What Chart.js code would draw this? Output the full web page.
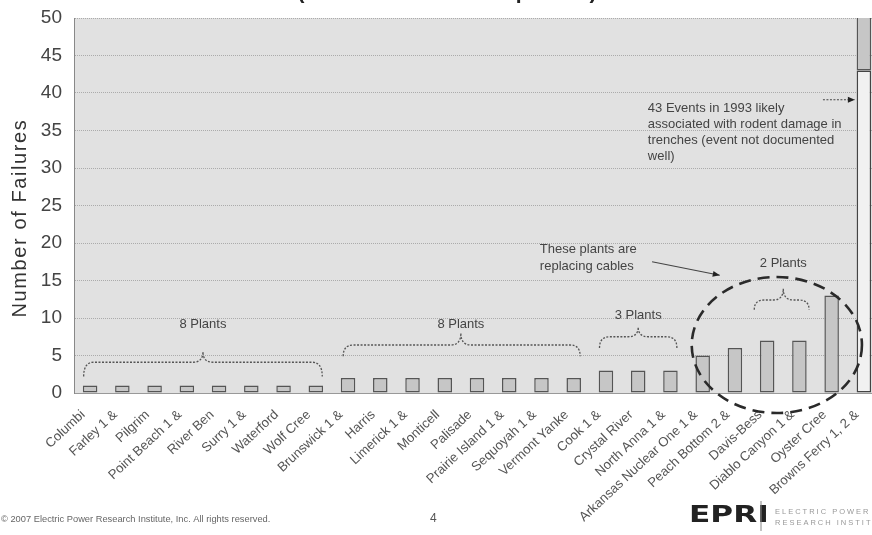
<!DOCTYPE html>
<html>
<head>
<meta charset="utf-8">
<script src="https://cdn.jsdelivr.net/npm/chart.js@4.4.1/dist/chart.umd.min.js"></script>
<style>
  html, body { margin: 0; padding: 0; background: #fff; overflow: hidden; width: 872px; height: 535px; }
  #wrap { position: absolute; left: 0; top: 0; width: 890px; height: 535px; }
</style>
</head>
<body>
<div id="wrap"><canvas id="c" width="890" height="535"></canvas></div>
<script>
// Cable failures reported per plant
const plants = [
  "Columbi", "Farley 1 &", "Pilgrim", "Point Beach 1 &", "River Ben", "Surry 1 &",
  "Waterford", "Wolf Cree", "Brunswick 1 &", "Harris", "Limerick 1 &", "Monticell",
  "Palisade", "Prairie Island 1 &", "Sequoyah 1 &", "Vermont Yanke", "Cook 1 &",
  "Crystal River", "North Anna 1 &", "Arkansas Nuclear One 1 &", "Peach Bottom 2 &",
  "Davis-Bess", "Diablo Canyon 1 &", "Oyster Cree", "Browns Ferry 1, 2 &"
];
// 1993 rodent-related events (Browns Ferry only)
const events1993 = [null, null, null, null, null, null, null, null, null, null, null, null,
  null, null, null, null, null, null, null, null, null, null, null, null, 43];
// all other failures
const failures = [1, 1, 1, 1, 1, 1, 1, 1, 2, 2, 2, 2, 2, 2, 2, 2, 3, 3, 3, 5, 6, 7, 7, 13, 9];
const yTicks = [0, 5, 10, 15, 20, 25, 30, 35, 40, 45, 50];

const FONT = "'Liberation Sans', Arial, sans-serif";

// curly-brace groupings, in category index / failure units
const braces = [
  { label: "8 Plants", from: -0.2, to: 7.2, tip: 3.5, end: 2.2, bar: 4.1, peak: 5.5, text: 9.1 },
  { label: "8 Plants", from: 7.85, to: 15.2, tip: 11.5, end: 4.9, bar: 6.4, peak: 8.0, text: 9.1 },
  { label: "3 Plants", from: 15.8, to: 18.2, tip: 17.0, end: 6.0, bar: 7.5, peak: 8.8, text: 10.4 },
  { label: "2 Plants", from: 20.6, to: 22.3, tip: 21.5, end: 11.1, bar: 12.4, peak: 13.9, text: 17.3 }
];

const notes = {
  id: "notes",
  beforeDraw(chart) {
    const { ctx, chartArea: a } = chart;
    ctx.save();
    ctx.fillStyle = "#ffffff";
    ctx.fillRect(0, 0, chart.width, chart.height);
    ctx.fillStyle = "#e1e1e1";
    ctx.fillRect(a.left, a.top, a.right - a.left, a.bottom - a.top);
    ctx.restore();
  },
  afterDraw(chart) {
    const { ctx } = chart;
    const xs = chart.scales.x, ys = chart.scales.y;
    const X = v => xs.getPixelForValue(v);
    const Y = v => ys.getPixelForValue(v);
    ctx.save();

    // braces
    ctx.strokeStyle = "#555";
    ctx.lineWidth = 1.3;
    ctx.setLineDash([2, 1.5]);
    const r = 10;
    braces.forEach(b => {
      const x0 = X(b.from), x1 = X(b.to), xt = X(b.tip);
      const yE = Y(b.end), yB = Y(b.bar), yP = Y(b.peak);
      ctx.beginPath();
      ctx.moveTo(x0, yE);
      ctx.quadraticCurveTo(x0, yB, x0 + r, yB);
      ctx.lineTo(xt - r, yB);
      ctx.quadraticCurveTo(xt, yB, xt, yP);
      ctx.quadraticCurveTo(xt, yB, xt + r, yB);
      ctx.lineTo(x1 - r, yB);
      ctx.quadraticCurveTo(x1, yB, x1, yE);
      ctx.stroke();
    });
    ctx.setLineDash([]);
    ctx.fillStyle = "#444";
    ctx.font = "13px " + FONT;
    ctx.textAlign = "center";
    ctx.textBaseline = "middle";
    braces.forEach(b => ctx.fillText(b.label, X(b.tip), Y(b.text)));

    // dashed ring round the plants replacing cables
    ctx.strokeStyle = "#2a2a2a";
    ctx.lineWidth = 2.6;
    ctx.setLineDash([12, 7]);
    const cx = X(21.3), cy = Y(6.4);
    const rx = X(21.3 + 2.64) - cx, ry = cy - Y(6.4 + 9.07);
    ctx.beginPath();
    ctx.ellipse(cx, cy, rx, ry, 0, 0, Math.PI * 2);
    ctx.stroke();
    ctx.setLineDash([]);

    // arrows
    function arrow(x0, y0, x1, y1, dash) {
      ctx.strokeStyle = "#444";
      ctx.fillStyle = "#222";
      ctx.lineWidth = 1.2;
      ctx.setLineDash(dash);
      ctx.beginPath();
      ctx.moveTo(x0, y0);
      ctx.lineTo(x1, y1);
      ctx.stroke();
      ctx.setLineDash([]);
      const ang = Math.atan2(y1 - y0, x1 - x0), h = 7, w = 3;
      ctx.beginPath();
      ctx.moveTo(x1, y1);
      ctx.lineTo(x1 - h * Math.cos(ang) + w * Math.sin(ang), y1 - h * Math.sin(ang) - w * Math.cos(ang));
      ctx.lineTo(x1 - h * Math.cos(ang) - w * Math.sin(ang), y1 - h * Math.sin(ang) + w * Math.cos(ang));
      ctx.closePath();
      ctx.fill();
    }
    ctx.fillStyle = "#444";
    ctx.font = "13px " + FONT;
    ctx.textAlign = "left";
    ctx.fillText("These plants are", X(13.95), Y(19.1));
    ctx.fillText("replacing cables", X(13.95), Y(16.9));
    arrow(X(17.43), Y(17.5), X(19.53), Y(15.7), []);

    ctx.fillStyle = "#444";
    ["43 Events in 1993 likely", "associated with rodent damage in",
     "trenches (event not documented", "well)"].forEach((t, i) => {
      ctx.fillText(t, X(17.3), Y(38.0 - i * 2.13));
    });
    arrow(X(22.73), Y(39.1), X(23.72), Y(39.1), [2, 1.5]);

    // vertical axis title
    ctx.save();
    ctx.translate(20, 218);
    ctx.rotate(-Math.PI / 2);
    ctx.fillStyle = "#333";
    ctx.font = "20px " + FONT;
    ctx.letterSpacing = "1.6px";
    ctx.textAlign = "center";
    ctx.textBaseline = "middle";
    ctx.fillText("Number of Failures", 0, 0);
    ctx.restore();

    // heading
    ctx.fillStyle = "#222";
    ctx.font = "bold 21px " + FONT;
    ctx.textAlign = "center";
    ctx.textBaseline = "alphabetic";
    ctx.fillText("(Source CE-07-01 Responses)", 447, -1);

    // footer
    ctx.fillStyle = "#666";
    ctx.font = "9.3px " + FONT;
    ctx.textAlign = "left";
    ctx.textBaseline = "middle";
    ctx.fillText("\u00a9 2007 Electric Power Research Institute, Inc. All rights reserved.", 1, 519);
    ctx.font = "12px " + FONT;
    ctx.fillStyle = "#555";
    ctx.fillText("4", 430, 519);

    // EPRI mark
    ctx.save();
    ctx.translate(689, 516);
    ctx.scale(1.3, 0.95);
    ctx.fillStyle = "#222";
    ctx.font = "bold 24px 'DejaVu Sans', sans-serif";
    ctx.textBaseline = "middle";
    ctx.fillText("EPRI", 0, 0);
    ctx.restore();
    ctx.strokeStyle = "#888";
    ctx.lineWidth = 1;
    ctx.beginPath();
    ctx.moveTo(761, 501);
    ctx.lineTo(761, 531);
    ctx.stroke();
    ctx.fillStyle = "#999";
    ctx.font = "7.5px " + FONT;
    ctx.letterSpacing = "2px";
    ctx.fillText("ELECTRIC POWER", 775, 512);
    ctx.fillText("RESEARCH INSTITUTE", 775, 523);

    ctx.restore();
  }
};

new Chart(document.getElementById("c"), {
  type: "bar",
  data: {
    labels: plants,
    datasets: [
      {
        label: "1993 events",
        data: events1993,
        backgroundColor: "#f1f1f1",
        borderColor: "#444",
        borderWidth: 1.5,
        borderSkipped: false,
        barPercentage: 0.45,
        categoryPercentage: 1
      },
      {
        label: "Failures",
        data: failures,
        backgroundColor: "#c6c6c6",
        borderColor: "#555",
        borderWidth: 1.5,
        borderSkipped: false,
        barPercentage: 0.45,
        categoryPercentage: 1
      }
    ]
  },
  options: {
    responsive: false,
    animation: false,
    layout: { autoPadding: false, padding: { left: 0, right: 10, top: 18, bottom: 0 } },
    plugins: { legend: { display: false }, tooltip: { enabled: false } },
    scales: {
      x: {
        stacked: true,
        grid: { display: false },
        border: { display: true, color: "#999", width: 1 },
        ticks: {
          autoSkip: false,
          minRotation: 43,
          maxRotation: 43,
          padding: 6,
          labelOffset: -7,
          color: "#555",
          font: { family: FONT, size: 13.2 }
        },
        afterFit(s) { s.height = 142; }
      },
      y: {
        stacked: true,
        min: 0,
        max: 50,
        grid: { color: "#ababab", lineWidth: 1, drawTicks: false },
        border: { display: true, color: "#888", dash: [1, 1] },
        ticks: {
          padding: 12,
          color: "#444",
          font: { family: FONT, size: 19 }
        },
        afterBuildTicks(s) { s.ticks = yTicks.map(v => ({ value: v })); },
        afterFit(s) { s.width = 74; s.paddingTop = 0; s.paddingBottom = 0; }
      }
    }
  },
  plugins: [notes]
});
</script>
</body>
</html>
